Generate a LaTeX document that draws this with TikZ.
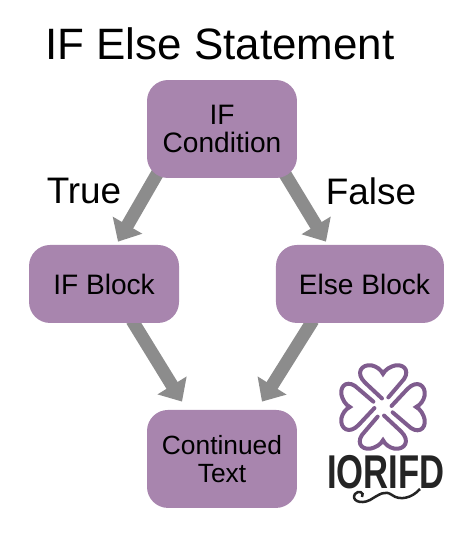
\documentclass[tikz,border=0pt]{standalone}
\usepackage{fontspec}
\setmainfont{Liberation Sans}
\usetikzlibrary{arrows.meta,backgrounds}
\definecolor{boxpurple}{HTML}{A885AE}
\definecolor{logopurple}{HTML}{7F5C8E}
\definecolor{logoink}{HTML}{242424}
\begin{document}
\begin{tikzpicture}[
    x=0.02cm, y=-0.02cm,
    node distance=3.1cm,
    block/.style={fill=boxpurple, rounded corners=0.42cm, minimum width=3cm, minimum height=1.56cm, align=center, inner sep=0pt, font=\fontsize{16}{16}\selectfont},
    arrow/.style={-{Triangle[length=0.38cm, width=0.66cm]}, line width=0.26cm, draw=black!45},
    heading/.style={font=\fontsize{25}{30}\selectfont},
    branch/.style={font=\fontsize{21}{24}\selectfont},
    petal/.style={draw=logopurple, line width=0.08cm, line cap=round}
]
  \useasboundingbox (0,0) rectangle (474,535);

  \node[heading] (title) at (220,44) {IF Else Statement};

  \node[block, minimum height=1.96cm] (ifcond) at (222,129) {IF\\Condition};
  \node[block] (ifblock) [below of=ifcond, xshift=-2.36cm] {IF Block};
  \node[block, minimum width=3.36cm] (elseblock) [below of=ifcond, xshift=2.76cm] {\hspace{0.18cm}Else Block};
  \node[block, minimum height=1.96cm, font=\fontsize{15}{16}\selectfont] (contd) [below of=ifblock, xshift=2.36cm, yshift=-0.4cm] {Continued\\Text};

  \node[branch] (truelabel) at (84,191) {True};
  \node[branch] (falselabel) at (371,191) {False};

  \begin{pgfonlayer}{background}
    \draw[arrow] ([xshift=-1.28cm, yshift=0.12cm]ifcond.south) -- ([xshift=0.28cm, yshift=0.06cm]ifblock.north);
    \draw[arrow] ([xshift=1.24cm, yshift=0.12cm]ifcond.south) -- ([xshift=-0.68cm, yshift=0.06cm]elseblock.north);
    \draw[arrow] ([xshift=0.56cm, yshift=0.06cm]ifblock.south) -- ([xshift=-0.8cm, yshift=0.16cm]contd.north);
    \draw[arrow] ([xshift=-0.94cm, yshift=0.06cm]elseblock.south) -- ([xshift=0.8cm, yshift=0.16cm]contd.north);
  \end{pgfonlayer}

  % Logo
  \foreach \ang in {0,90,180,270} {
    \draw[petal, shift={(383,407)}, rotate=\ang, scale=1.07]
      (-1,-8) -- (-17,-23) .. controls (-26,-32) and (-20,-40) .. (-11,-39)
      .. controls (-6,-38) and (-2,-35) .. (0,-31)
      .. controls (2,-35) and (7,-38) .. (12,-39)
      .. controls (21,-40) and (26,-32) .. (17,-23) -- (5,-9);
  }
  \node[font=\fontsize{27}{30}\bfseries, text=logoink, xscale=0.73] (logotext) at (386,472) {IORIFD};
  \draw[logoink, line width=0.05cm] (362,497) .. controls (365,492) and (358,490) .. (355,494)
    .. controls (351,500) and (360,505) .. (370,500)
    .. controls (380,494) and (385,490) .. (392,495)
    .. controls (400,501) and (412,498) .. (420,489);
\end{tikzpicture}
\end{document}
